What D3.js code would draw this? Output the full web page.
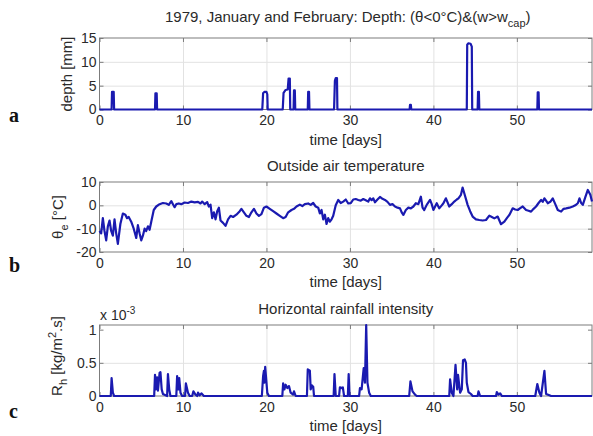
<!DOCTYPE html>
<html>
<head>
<meta charset="utf-8">
<script src="https://cdn.jsdelivr.net/npm/d3@7"></script>
<style>
  body { margin: 0; background: #fff; }
  svg { display: block; font-family: "Liberation Sans", Arial, sans-serif; }
  .tick text { font-size: 14px; fill: #2a2a2a; }
</style>
</head>
<body>
<script>
// x axis (days) shared by all panels
const xTicks = [0, 10, 20, 30, 40, 50];

// panel a: depth [mm], pulses where (theta<0 C) & (w>wcap)
const depthTicks = [0, 5, 10, 15];
const depthPts = [
  [0, 0], [1.45, 0], [1.5, 3.7], [1.7, 3.7], [1.75, 0],
  [6.65, 0], [6.7, 3.4], [6.85, 3.4], [6.9, 0],
  [19.5, 0], [19.6, 3.4], [19.75, 3.7], [20.0, 3.7], [20.1, 3.2], [20.15, 0],
  [21.95, 0], [22.05, 3.5], [22.3, 4.1], [22.55, 4.2], [22.65, 6.5], [22.8, 6.5], [22.85, 0],
  [23.25, 0], [23.3, 4.0], [23.4, 4.0], [23.45, 0],
  [24.95, 0], [25.0, 3.7], [25.1, 3.7], [25.15, 0],
  [28.1, 0], [28.2, 6.0], [28.3, 6.6], [28.45, 6.6], [28.5, 0],
  [37.15, 0], [37.2, 1.0], [37.3, 1.0], [37.35, 0],
  [44.0, 0], [44.05, 13.6], [44.2, 13.9], [44.45, 13.8], [44.6, 13.2], [44.65, 0],
  [45.3, 0], [45.35, 3.7], [45.45, 3.7], [45.5, 0],
  [52.45, 0], [52.5, 3.6], [52.6, 3.6], [52.65, 0],
  [59, 0]
];

// panel b: outside air temperature [deg C]
const tempTicks = [-20, -10, 0, 10];
const tempPts = [
  [0, -11], [0.2, -12], [0.4, -5.5], [0.6, -11], [0.8, -15], [1.0, -9], [1.2, -6.5], [1.4, -11],
  [1.6, -13], [1.8, -6], [2.0, -12], [2.2, -16.5], [2.5, -8], [2.8, -3.5], [3.1, -4], [3.3, -5.5],
  [3.5, -5], [3.8, -7], [4.1, -10], [4.4, -14], [4.6, -8.5], [4.8, -12], [5.0, -15], [5.2, -13],
  [5.4, -10], [5.6, -11], [5.8, -9], [6.0, -10.5], [6.2, -7], [6.5, -2], [6.8, -0.5], [7.2, 0.5],
  [7.6, 1], [8.0, 0.8], [8.3, 0.2], [8.6, 1.8], [8.8, 0.5], [9.0, -0.8], [9.2, 0.5], [9.5, 0.8],
  [9.8, 0.5], [10.2, 1.2], [10.6, 1], [11.0, 1.6], [11.4, 1.3], [11.8, 1.5], [12.1, 0.8], [12.3, 1.6],
  [12.6, 0.5], [12.9, 1.4], [13.1, -0.5], [13.3, 0.3], [13.5, -5.5], [13.7, -3], [13.9, -6], [14.1, -2.5],
  [14.3, -1], [14.5, -6.5], [14.8, -7.5], [15.1, -8.8], [15.4, -6], [15.7, -4.5], [16.0, -5], [16.4, -4],
  [16.8, -2.5], [17.0, -1.5], [17.3, -3], [17.6, -4.5], [17.9, -5], [18.2, -3], [18.5, -1.5], [18.8, -3.5],
  [19.1, -4.5], [19.4, -3.8], [19.7, -1], [20.0, -0.5], [20.4, -1.5], [20.8, -2.5], [21.2, -3.5], [21.6, -4.5],
  [22.0, -5.5], [22.3, -5], [22.6, -3], [23.0, -2], [23.3, -1.5], [23.6, -0.5], [24.0, 0.3], [24.3, -0.3],
  [24.6, 0.5], [25.0, 0.8], [25.3, 0.2], [25.6, 1], [25.9, -0.5], [26.2, -1], [26.4, -3.5], [26.6, -2],
  [26.8, -6], [27.0, -4], [27.2, -8], [27.4, -5.5], [27.6, -7], [27.8, -6], [28.0, -4.5], [28.3, 0],
  [28.6, 2.3], [28.9, 1], [29.2, 1.6], [29.5, 2.5], [29.8, 0.8], [30.1, 0.9], [30.4, 2.5], [30.7, 2.7],
  [31.0, 2.3], [31.3, 2.0], [31.6, 2.7], [31.9, 2.2], [32.2, 1.6], [32.4, 3], [32.6, 2.2], [32.8, 3],
  [33.0, 1.3], [33.3, 2.5], [33.6, 3.6], [33.9, 2.8], [34.2, 2.3], [34.5, 1.5], [34.8, 0.2], [35.1, 0.5],
  [35.4, -0.5], [35.7, -1], [36.0, -1.3], [36.2, -3], [36.4, -4.1], [36.7, -2], [37.0, -1], [37.3, -1.3],
  [37.6, -0.5], [37.9, 0.9], [38.2, 0.5], [38.5, 3.7], [38.7, -1], [38.9, -2], [39.2, 0.2], [39.6, 2.3],
  [39.8, 0.5], [40.0, -2], [40.4, 0.9], [40.7, -1.3], [41.0, 0], [41.2, 0.9], [41.5, 3], [41.9, -0.5],
  [42.2, 0.5], [42.5, 1.6], [42.8, 2.5], [43.0, 3], [43.3, 4.5], [43.5, 7.6], [43.7, 5.2], [44.1, 0.2],
  [44.4, -2.5], [44.7, -4.8], [45.1, -6], [45.5, -6.3], [45.9, -6.5], [46.3, -6.3], [46.7, -4.4], [47.0, -5],
  [47.3, -5.6], [47.7, -4.8], [48.1, -8.1], [48.5, -7], [48.8, -5.5], [49.1, -4.1], [49.5, -1.3], [49.8, -1.8],
  [50.1, -2], [50.4, -1.2], [50.7, -0.5], [51.1, -2], [51.4, -2.3], [51.7, -2.7], [52.0, -1.5], [52.3, -0.5],
  [52.6, 1], [52.9, 2.3], [53.1, 1.5], [53.3, 3], [53.5, 2], [53.7, 0.9], [54.0, 1.5], [54.3, 3],
  [54.6, 0.5], [54.9, -2], [55.3, -2.7], [55.6, -1.5], [55.9, -1.3], [56.3, -1], [56.7, -0.5], [57.0, 0],
  [57.3, 0.9], [57.5, 3], [57.7, 1], [57.9, 0.2], [58.2, 3.5], [58.5, 6.6], [58.8, 4.5], [59, 1.6]
];

// panel c: horizontal rainfall intensity [x 1e-3 kg/m2.s]
const rainTicks = [0, 0.5, 1];
const rainPts = [
  [0, 0], [1.35, 0], [1.45, 0.27], [1.6, 0.05], [1.75, 0],
  [6.55, 0], [6.65, 0.32], [6.75, 0.1], [6.9, 0.28], [7.0, 0.08], [7.2, 0.35], [7.3, 0.36], [7.45, 0.1],
  [7.6, 0.03], [8.1, 0], [8.2, 0.33], [8.35, 0.1], [8.5, 0], [9.2, 0], [9.3, 0.3], [9.45, 0.1],
  [9.55, 0.27], [9.7, 0.05], [9.9, 0], [10.25, 0], [10.35, 0.19], [10.6, 0.05], [10.8, 0], [11.1, 0],
  [11.25, 0.07], [11.5, 0.02], [11.7, 0], [11.8, 0.05], [12.0, 0.01], [12.2, 0.04], [12.5, 0],
  [19.45, 0], [19.6, 0.3], [19.7, 0.38], [19.75, 0.2], [19.85, 0.44], [20.1, 0.05], [20.3, 0],
  [21.9, 0], [22.0, 0.19], [22.15, 0.1], [22.3, 0.17], [22.5, 0.12], [22.7, 0.15], [22.9, 0.05],
  [23.2, 0.02], [23.3, 0.07], [23.5, 0],
  [24.85, 0], [24.95, 0.4], [25.2, 0.38], [25.3, 0.1], [25.45, 0.16], [25.6, 0.14], [25.7, 0],
  [28.05, 0], [28.15, 0.33], [28.3, 0], [28.7, 0], [28.8, 0.13], [29.0, 0.12], [29.15, 0.13], [29.3, 0],
  [29.75, 0], [29.85, 0.33], [29.95, 0],
  [31.1, 0], [31.2, 0.12], [31.4, 0.1], [31.65, 0.42], [31.8, 0.2], [31.95, 1.07], [32.1, 0.2],
  [32.3, 0.05], [32.5, 0],
  [37.1, 0], [37.25, 0.22], [37.5, 0.07], [37.8, 0.02], [38.0, 0],
  [41.9, 0], [42.0, 0.25], [42.2, 0.05], [42.4, 0], [42.65, 0.47], [42.85, 0.1], [42.95, 0.32],
  [43.2, 0.05], [43.4, 0.1], [43.55, 0.54], [43.75, 0.55], [43.9, 0.5], [44.0, 0.2], [44.2, 0.06],
  [44.5, 0.03], [44.7, 0], [45.3, 0], [45.4, 0.07], [45.6, 0],
  [47.5, 0], [47.6, 0.06], [47.8, 0.02], [48.0, 0.04], [48.2, 0],
  [52.2, 0], [52.45, 0.18], [52.7, 0.05], [52.9, 0], [53.3, 0.38], [53.5, 0.03], [53.9, 0.01],
  [54.1, 0], [59, 0]
];

const W = 593, H = 436;
const lineColor = "#1a1ab0";
const textColor = "#2a2a2a";

const svg = d3.select("body").append("svg")
  .attr("width", W)
  .attr("height", H);

const x = d3.scaleLinear().domain([0, 59]).range([99.5, 592]);

// draws one MATLAB-style panel: grid, box, inside ticks, labels and the line
function drawPanel(top, bottom, yDomain, yTicks, pts) {
  const y = d3.scaleLinear().domain(yDomain).range([bottom, top]);
  const g = svg.append("g");

  // grid
  g.append("g")
    .attr("transform", `translate(0,${bottom})`)
    .call(d3.axisBottom(x).tickValues(xTicks.slice(1)).tickSize(-(bottom - top)).tickFormat(""))
    .call(a => a.select(".domain").remove())
    .call(a => a.selectAll("line").attr("stroke", "#e2e2e2"));
  g.append("g")
    .attr("transform", `translate(${x.range()[0]},0)`)
    .call(d3.axisLeft(y).tickValues(yTicks.slice(1, -1)).tickSize(-(x.range()[1] - x.range()[0])).tickFormat(""))
    .call(a => a.select(".domain").remove())
    .call(a => a.selectAll("line").attr("stroke", "#e2e2e2"));

  // box
  g.append("rect")
    .attr("x", x.range()[0]).attr("y", top)
    .attr("width", x.range()[1] - x.range()[0]).attr("height", bottom - top)
    .attr("fill", "none").attr("stroke", "#7c7c7c");

  // inside ticks with labels
  g.append("g")
    .attr("transform", `translate(0,${bottom})`)
    .call(d3.axisBottom(x).tickValues(xTicks).tickSizeInner(-4).tickSizeOuter(0).tickPadding(6))
    .call(a => a.select(".domain").remove())
    .call(a => a.selectAll("line").attr("stroke", "#7c7c7c"));
  g.append("g")
    .attr("transform", `translate(0,${top})`)
    .call(d3.axisTop(x).tickValues(xTicks).tickSizeInner(-4).tickSizeOuter(0).tickFormat(""))
    .call(a => a.select(".domain").remove())
    .call(a => a.selectAll("line").attr("stroke", "#7c7c7c"));
  g.append("g")
    .attr("transform", `translate(${x.range()[0]},0)`)
    .call(d3.axisLeft(y).tickValues(yTicks).tickSizeInner(-4).tickSizeOuter(0).tickPadding(3).tickFormat(d => d))
    .call(a => a.select(".domain").remove())
    .call(a => a.selectAll("line").attr("stroke", "#7c7c7c"));
  g.append("g")
    .attr("transform", `translate(${x.range()[1]},0)`)
    .call(d3.axisRight(y).tickValues(yTicks).tickSizeInner(-4).tickSizeOuter(0).tickFormat(""))
    .call(a => a.select(".domain").remove())
    .call(a => a.selectAll("line").attr("stroke", "#7c7c7c"));

  // data line
  const line = d3.line()
    .x(d => x(d[0]))
    .y(d => y(d[1]));
  g.append("path")
    .datum(pts)
    .attr("fill", "none")
    .attr("stroke", lineColor)
    .attr("stroke-width", 2.2)
    .attr("stroke-linejoin", "round")
    .attr("d", line);

  // x label
  g.append("text")
    .attr("x", (x.range()[0] + x.range()[1]) / 2)
    .attr("y", bottom + 35)
    .attr("text-anchor", "middle")
    .attr("font-size", 15)
    .attr("fill", textColor)
    .text("time [days]");

  return g;
}

drawPanel(38, 109.5, [0, 15], depthTicks, depthPts);
drawPanel(182, 252, [-20, 10], tempTicks, tempPts);
drawPanel(325, 396, [0, 1.07], rainTicks, rainPts);

const cx = (x.range()[0] + x.range()[1]) / 2;

// titles
const t1 = svg.append("text")
  .attr("x", cx + 2).attr("y", 22)
  .attr("text-anchor", "middle").attr("font-size", 15).attr("fill", textColor);
t1.append("tspan").text("1979, January and February: Depth: (θ<0°C)&(w>w");
t1.append("tspan").attr("font-size", 11).attr("dy", 5).text("cap");
t1.append("tspan").attr("dy", -5).text(")");

svg.append("text")
  .attr("x", cx).attr("y", 171)
  .attr("text-anchor", "middle").attr("font-size", 15).attr("fill", textColor)
  .text("Outside air temperature");

svg.append("text")
  .attr("x", cx).attr("y", 314)
  .attr("text-anchor", "middle").attr("font-size", 15).attr("fill", textColor)
  .text("Horizontal rainfall intensity");

// exponent label for panel c
const ex = svg.append("text")
  .attr("x", 100).attr("y", 320)
  .attr("font-size", 14).attr("fill", textColor);
ex.append("tspan").text("x 10");
ex.append("tspan").attr("font-size", 10).attr("dy", -6).text("-3");

// y labels (rotated)
function yLabel(bx, cy, build) {
  const t = svg.append("text")
    .attr("transform", `translate(${bx},${cy}) rotate(-90)`)
    .attr("text-anchor", "middle")
    .attr("font-size", 15).attr("fill", textColor);
  build(t);
}
yLabel(72, 74, t => t.text("depth [mm]"));
yLabel(63, 217, t => {
  t.append("tspan").text("θ");
  t.append("tspan").attr("font-size", 11).attr("dy", 5).text("e");
  t.append("tspan").attr("dy", -5).text(" [°C]");
});
yLabel(62, 356, t => {
  t.append("tspan").text("R");
  t.append("tspan").attr("font-size", 11).attr("dy", 5).text("h");
  t.append("tspan").attr("dy", -5).text(" [kg/m");
  t.append("tspan").attr("font-size", 11).attr("dy", -6).text("2");
  t.append("tspan").attr("dy", 6).text(".s]");
});

// panel letters
[["a", 122], ["b", 272], ["c", 418]].forEach(([s, yy]) => {
  svg.append("text")
    .attr("x", 9).attr("y", yy)
    .attr("font-family", "'Liberation Serif', 'Times New Roman', serif")
    .attr("font-weight", "bold")
    .attr("font-size", 20)
    .attr("fill", "#111")
    .text(s);
});
</script>
</body>
</html>
